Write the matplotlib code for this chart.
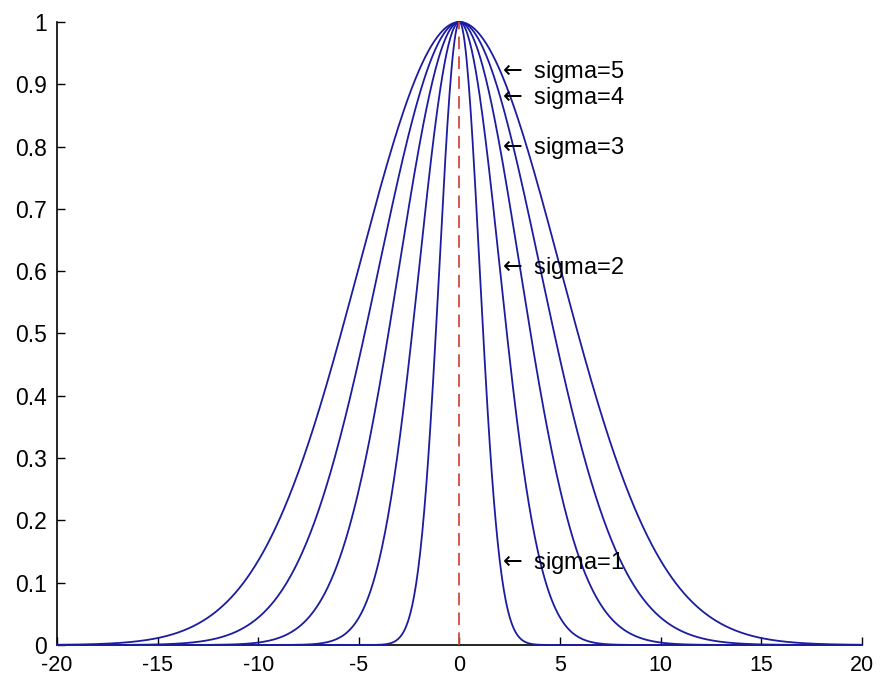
import matplotlib
matplotlib.use("Agg")
import matplotlib.pyplot as plt
import numpy as np

# sigma of each gaussian curve
sigmas = [1, 2, 3, 4, 5]
labels = ["sigma=1", "sigma=2", "sigma=3", "sigma=4", "sigma=5"]
# where each label arrow points (x, y) in data units
label_x = [1.9, 1.9, 1.9, 1.9, 1.9]
label_y = [0.132, 0.605, 0.798, 0.878, 0.92]

x_ticks = [-20, -15, -10, -5, 0, 5, 10, 15, 20]
y_ticks = [0, 0.1, 0.2, 0.3, 0.4, 0.5, 0.6, 0.7, 0.8, 0.9, 1]
y_ticklabels = ["0", "0.1", "0.2", "0.3", "0.4", "0.5", "0.6", "0.7", "0.8", "0.9", "1"]

x = np.linspace(-20, 20, 801)

plt.rcParams["font.family"] = ["Liberation Sans", "DejaVu Sans"]
plt.rcParams["mathtext.fontset"] = "dejavusans"

fig = plt.figure(figsize=(8.8, 6.76), dpi=100)
ax = fig.add_axes([0.0648, 0.0459, 0.9795 - 0.0648, 0.9675 - 0.0459])

for s in sigmas:
    ax.plot(x, np.exp(-x ** 2 / (2 * s ** 2)), color="#1c1ca0", lw=1.3,
            clip_on=False, zorder=3)

ax.plot([0, 0], [0, 1], color="#d04a3a", lw=1.3, dashes=(7, 4), zorder=4)

for lx, ly, txt in zip(label_x, label_y, labels):
    ax.text(lx, ly, r"$\leftarrow$ " + txt, ha="left", va="center", fontsize=17,
            zorder=5)

ax.set_xlim(-20, 20)
ax.set_ylim(0, 1)
ax.set_xticks(x_ticks)
ax.set_xticklabels([str(t) for t in x_ticks])
ax.set_yticks(y_ticks)
ax.set_yticklabels(y_ticklabels)
ax.tick_params(direction="in", length=6, width=1)
ax.tick_params(axis="x", pad=7.5, labelsize=15.5)
ax.tick_params(axis="y", pad=7, labelsize=16.5)

ax.spines["top"].set_visible(False)
ax.spines["right"].set_visible(False)
ax.spines["left"].set_linewidth(1.2)
ax.spines["bottom"].set_linewidth(1.2)

fig.savefig("out.png", dpi=100)
